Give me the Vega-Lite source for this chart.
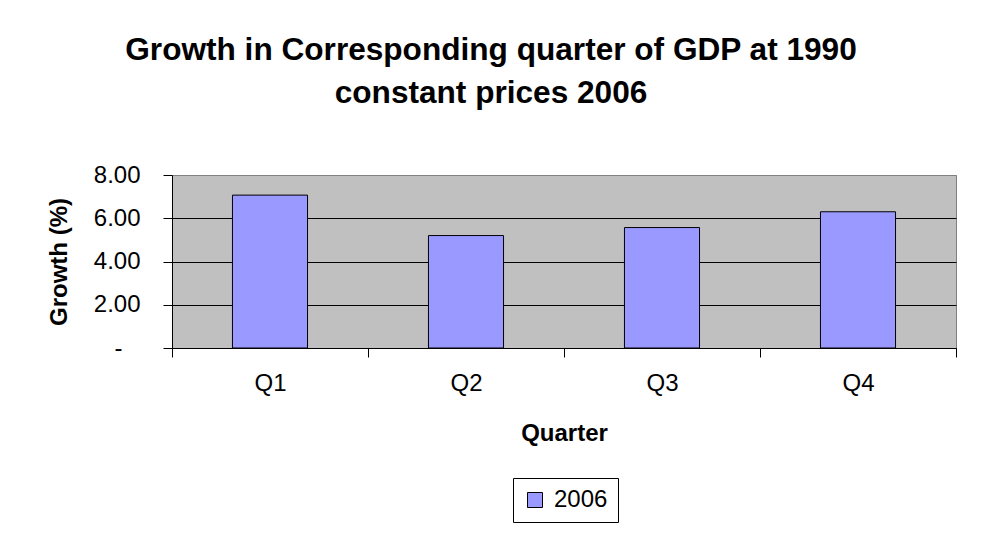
{
  "$schema": "https://vega.github.io/schema/vega-lite/v6.json",
  "width": 784,
  "height": 173,
  "autosize": "none",
  "padding": {"left": 172, "top": 175, "right": 27, "bottom": 194},
  "background": "white",
  "config": {
    "font": "Liberation Sans",
    "view": {"fill": "#C0C0C0", "stroke": "#808080", "strokeWidth": 1}
  },
  "title": {
    "text": ["Growth in Corresponding quarter of GDP at 1990", "constant prices 2006"],
    "fontSize": 31.6,
    "fontWeight": "bold",
    "font": "Liberation Sans",
    "color": "black",
    "anchor": "middle",
    "dx": -73,
    "offset": 53,
    "lineHeight": 43
  },
  "data": {
    "values": [
      {"quarter": "Q1", "growth": 7.07, "series": "2006"},
      {"quarter": "Q2", "growth": 5.20, "series": "2006"},
      {"quarter": "Q3", "growth": 5.57, "series": "2006"},
      {"quarter": "Q4", "growth": 6.30, "series": "2006"}
    ]
  },
  "mark": {"type": "bar", "stroke": "black", "strokeWidth": 1, "width": {"band": 0.383}},
  "encoding": {
    "x": {
      "field": "quarter",
      "type": "nominal",
      "scale": {"paddingInner": 0, "paddingOuter": 0},
      "axis": {
        "title": "Quarter",
        "labelAngle": 0,
        "labelFontSize": 24,
        "labelColor": "black",
        "labelPadding": 14,
        "titleFontSize": 24,
        "titleFontWeight": "bold",
        "titleColor": "black",
        "titlePadding": 26,
        "domainColor": "black",
        "tickColor": "black",
        "tickSize": 9,
        "tickBand": "extent"
      }
    },
    "y": {
      "field": "growth",
      "type": "quantitative",
      "scale": {"domain": [0, 8]},
      "axis": {
        "title": "Growth (%)",
        "values": [0, 2, 4, 6, 8],
        "labelExpr": "datum.value == 0 ? '-\u2800' : format(datum.value, '.2f')",
        "labelFontSize": 24,
        "labelColor": "black",
        "labelPadding": 23,
        "titleFontSize": 24,
        "titleFontWeight": "bold",
        "titleColor": "black",
        "titlePadding": 22,
        "domainColor": "black",
        "tickColor": "black",
        "tickSize": 9,
        "grid": true,
        "gridColor": {"condition": {"test": "datum.value == 8", "value": "#808080"}, "value": "black"},
        "gridOpacity": 1
      }
    },
    "fill": {
      "field": "series",
      "type": "nominal",
      "scale": {"range": ["#9999FF"]},
      "legend": {
        "title": null,
        "orient": "none",
        "legendX": 341,
        "legendY": 303,
        "strokeColor": "black",
        "fillColor": "white",
        "padding": 10,
        "labelFontSize": 24,
        "labelColor": "black",
        "labelOffset": 7,
        "symbolType": "square",
        "symbolSize": 225,
        "symbolStrokeColor": "black",
        "symbolStrokeWidth": 1,
        "symbolOpacity": 1
      }
    }
  }
}
